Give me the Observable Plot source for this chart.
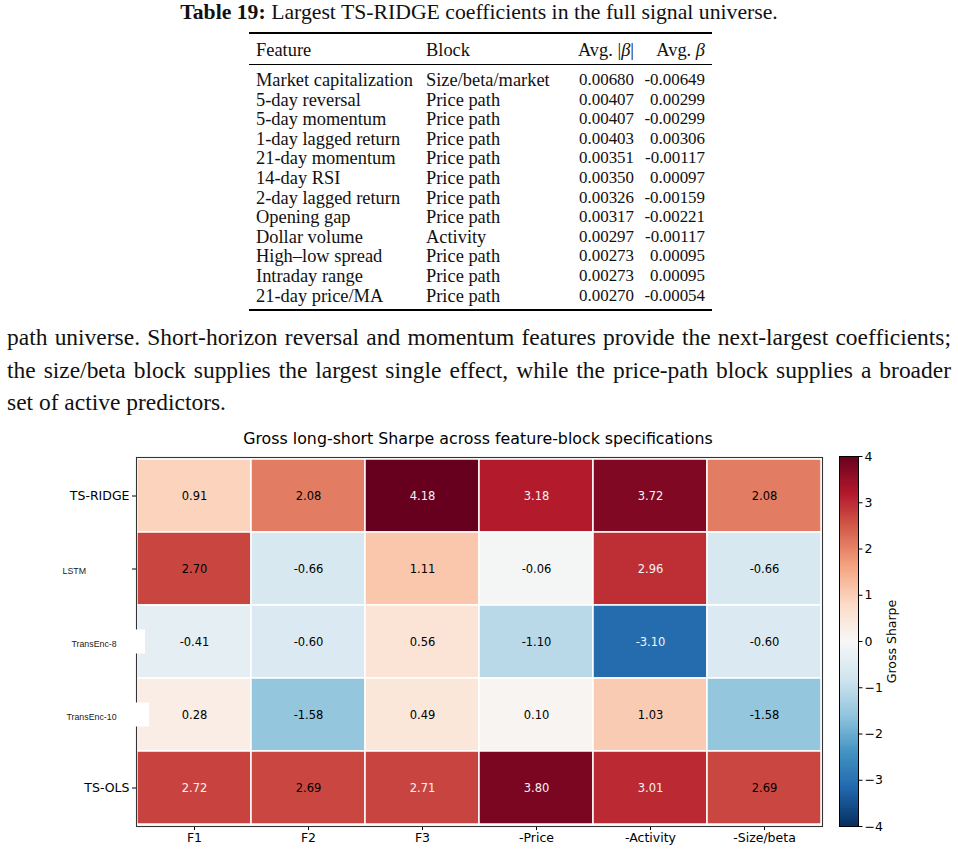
<!DOCTYPE html>
<html><head><meta charset="utf-8">
<script src="https://cdn.jsdelivr.net/npm/d3@7"></script>
<script src="https://cdn.jsdelivr.net/npm/@observablehq/plot@0.6"></script>
<style>
html,body{margin:0;padding:0;background:#fff;}
body{width:958px;height:852px;position:relative;overflow:hidden;}
.t{position:absolute;white-space:nowrap;line-height:1;transform:translateY(-50%);font-family:"Liberation Serif",serif;color:#111;}
.rule{position:absolute;background:#000;}
.para{position:absolute;line-height:1;transform:translateY(-50%);font-family:"Liberation Serif",serif;color:#111;}
</style></head><body>
<script>
// ---------- Table data ----------
const tableLabel = "Table 19:";
const tableCaption = "Largest TS-RIDGE coefficients in the full signal universe.";
const tableHeaders = ["Feature", "Block", "Avg. |<i>β</i>|", "Avg. <i>β</i>"];
const features = ["Market capitalization", "5-day reversal", "5-day momentum", "1-day lagged return", "21-day momentum", "14-day RSI", "2-day lagged return", "Opening gap", "Dollar volume", "High\u2013low spread", "Intraday range", "21-day price/MA"];
const featureBlocks = ["Size/beta/market", "Price path", "Price path", "Price path", "Price path", "Price path", "Price path", "Price path", "Activity", "Price path", "Price path", "Price path"];
const avgAbsBeta = [0.00680, 0.00407, 0.00407, 0.00403, 0.00351, 0.00350, 0.00326, 0.00317, 0.00297, 0.00273, 0.00273, 0.00270];
const avgBeta = [-0.00649, 0.00299, -0.00299, 0.00306, -0.00117, 0.00097, -0.00159, -0.00221, -0.00117, 0.00095, 0.00095, -0.00054];

// ---------- Paragraph ----------
const paragraphLines = [
  "path universe. Short-horizon reversal and momentum features provide the next-largest coefficients;",
  "the size/beta block supplies the largest single effect, while the price-path block supplies a broader",
  "set of active predictors."
];

// ---------- Heatmap data ----------
const chartTitle = "Gross long-short Sharpe across feature-block specifications";
const models = ["TS-RIDGE", "LSTM", "TransEnc-8", "TransEnc-10", "TS-OLS"];
const smallLabelModels = ["LSTM", "TransEnc-8", "TransEnc-10"];
const specs = ["F1", "F2", "F3", "-Price", "-Activity", "-Size/beta"];
const sharpeTSRidge = [0.91, 2.08, 4.18, 3.18, 3.72, 2.08];
const sharpeLSTM = [2.70, -0.66, 1.11, -0.06, 2.96, -0.66];
const sharpeTransEnc8 = [-0.41, -0.60, 0.56, -1.10, -3.10, -0.60];
const sharpeTransEnc10 = [0.28, -1.58, 0.49, 0.10, 1.03, -1.58];
const sharpeTSOLS = [2.72, 2.69, 2.71, 3.80, 3.01, 2.69];
const colorLimits = [-4, 4];
const colorbarTicks = [-4, -3, -2, -1, 0, 1, 2, 3, 4];
const colorbarLabel = "Gross Sharpe";

// ---------- Layout (styling only) ----------
const L = {
  captionCX: 479, captionY: 13, captionWidth: 598,
  ruleX0: 249, ruleX1: 712, topRuleY: 33, midRuleY: 64, bottomRuleY: 310,
  headerY: 50, firstRowY: 80, rowStep: 19.6,
  colFeatureX: 256, colBlockX: 426, colAbsRight: 634, colBetaRight: 705,
  featureRefWidth: 157, numberRefWidth: 55,
  paraX: 7, paraWidth: 944, paraY: [338, 370.5, 403], paraLastWidth: 219,
  titleCX: 478, titleY: 439, titleWidth: 470
};

function fit(el, target, base) {
  el.style.fontSize = base + "px";
  const w = el.getBoundingClientRect().width;
  return base * target / w;
}
function place(html, o) {
  const d = document.createElement("div");
  d.className = o.cls || "t";
  d.innerHTML = html;
  if (o.x != null) d.style.left = o.x + "px";
  if (o.right != null) d.style.right = (958 - o.right) + "px";
  d.style.top = o.y + "px";
  if (o.size) d.style.fontSize = o.size + "px";
  document.body.appendChild(d);
  return d;
}
function rule(y, h) {
  const r = document.createElement("div");
  r.className = "rule";
  r.style.left = L.ruleX0 + "px"; r.style.width = (L.ruleX1 - L.ruleX0) + "px";
  r.style.top = (y - h / 2) + "px"; r.style.height = h + "px";
  document.body.appendChild(r);
}

// Caption
const cap = place(`<b>${tableLabel}</b> ${tableCaption}`, {x: 0, y: L.captionY});
const capSize = fit(cap, L.captionWidth, 17);
cap.style.fontSize = capSize + "px";
cap.style.left = L.captionCX + "px";
cap.style.transform = "translate(-50%,-50%)";

// Table font sizes
const probe = place(features[0], {x: 0, y: -100});
const tSize = fit(probe, L.featureRefWidth, 16);
probe.remove();
const nprobe = place(avgAbsBeta[0].toFixed(5), {x: 0, y: -100});
const nSize = fit(nprobe, L.numberRefWidth, 16);
nprobe.remove();

rule(L.topRuleY, 1.6); rule(L.midRuleY, 1.0); rule(L.bottomRuleY, 1.6);
place(tableHeaders[0], {x: L.colFeatureX, y: L.headerY, size: tSize});
place(tableHeaders[1], {x: L.colBlockX, y: L.headerY, size: tSize});
place(tableHeaders[2], {right: L.colAbsRight, y: L.headerY, size: tSize});
place(tableHeaders[3], {right: L.colBetaRight, y: L.headerY, size: tSize});
features.forEach((f, i) => {
  const y = L.firstRowY + i * L.rowStep;
  place(f, {x: L.colFeatureX, y, size: tSize});
  place(featureBlocks[i], {x: L.colBlockX, y, size: tSize});
  place(avgAbsBeta[i].toFixed(5), {right: L.colAbsRight, y, size: nSize});
  place(avgBeta[i].toFixed(5), {right: L.colBetaRight, y, size: nSize});
});

// Paragraph
const p3 = place(paragraphLines[2], {x: L.paraX, y: L.paraY[2], cls: "para"});
p3.style.whiteSpace = "nowrap";
let pSize = fit(p3, L.paraLastWidth, 20);
const p1probe = place(paragraphLines[0], {x: 0, y: -100});
p1probe.style.fontSize = pSize + "px";
const w1 = p1probe.getBoundingClientRect().width;
if (w1 > L.paraWidth - 4) pSize = pSize * (L.paraWidth - 4) / w1;
p1probe.remove();
p3.style.fontSize = pSize + "px";
paragraphLines.slice(0, 2).forEach((line, i) => {
  const d = place(line, {x: L.paraX, y: L.paraY[i], size: pSize, cls: "para"});
  d.style.width = L.paraWidth + "px";
  d.style.textAlign = "justify";
  d.style.textAlignLast = "justify";
});

// Heatmap title
const title = place(chartTitle, {x: 0, y: L.titleY});
title.style.fontFamily = "DejaVu Sans";
title.style.color = "#000";
title.style.fontSize = fit(title, L.titleWidth, 14.5) + "px";
title.style.left = L.titleCX + "px";
title.style.transform = "translate(-50%,-50%)";

// ---------- Heatmap ----------
const sharpeRows = [sharpeTSRidge, sharpeLSTM, sharpeTransEnc8, sharpeTransEnc10, sharpeTSOLS];
const cells = models.flatMap((m, i) => specs.map((s, j) => ({model: m, spec: s, value: sharpeRows[i][j]})));
const rdbu = ["#053061", "#2166ac", "#4393c3", "#92c5de", "#d1e5f0", "#f7f7f7", "#fddbc7", "#f4a582", "#d6604d", "#b2182b", "#67001f"];
const colorScale = {
  type: "linear",
  domain: rdbu.map((_, i) => colorLimits[0] + (colorLimits[1] - colorLimits[0]) * i / (rdbu.length - 1)),
  range: rdbu, interpolate: "rgb", clamp: true
};
const whiteText = d => Math.abs(d.value) > 2.705;
const smallDx = {"LSTM": -74, "TransEnc-8": -65, "TransEnc-10": -70};

const heat = Plot.plot({
  width: 830, height: 427,
  marginLeft: 136, marginRight: 8, marginTop: 32, marginBottom: 26,
  style: {fontFamily: "DejaVu Sans", fontSize: "12.5px", background: "transparent", overflow: "visible", color: "#000"},
  x: {domain: specs, padding: 0, label: null, tickSize: 4, tickPadding: 3},
  y: {domain: models, padding: 0, label: null, tickSize: 4, tickPadding: 3,
      tickFormat: d => smallLabelModels.includes(d) ? "" : d},
  color: colorScale,
  marks: [
    Plot.cell(cells, {x: "spec", y: "model", fill: "value", stroke: "white", strokeWidth: 1.5}),
    Plot.text(cells.filter(d => !whiteText(d)), {x: "spec", y: "model", text: d => d.value.toFixed(2), fill: "#000", fontSize: 11.5}),
    Plot.text(cells.filter(whiteText), {x: "spec", y: "model", text: d => d.value.toFixed(2), fill: "#f4f4f4", fontSize: 11.5}),
    Plot.frame({stroke: "#333", strokeWidth: 1.1}),
    ...smallLabelModels.map(m => Plot.text([m], {y: d => d, text: d => d, frameAnchor: "left", textAnchor: "start",
      dx: smallDx[m], dy: 2, fontFamily: "Liberation Sans", fontSize: 8.8, fill: "#222"}))
  ]
});
const hwrap = document.createElement("div");
hwrap.style.cssText = "position:absolute;left:0;top:425px;";
hwrap.appendChild(heat);
document.body.appendChild(hwrap);

// white patches behind the TransEnc labels (as in the reference)
const yS = heat.scale("y");
const textGroups = [...heat.querySelectorAll(':scope > g[aria-label="text"]')];
const firstSmall = textGroups[textGroups.length - smallLabelModels.length];
const patchRight = {"TransEnc-8": 9, "TransEnc-10": 13};
Object.keys(patchRight).forEach(m => {
  const cy = yS.apply(m) + yS.bandwidth / 2;
  const r = document.createElementNS("http://www.w3.org/2000/svg", "rect");
  r.setAttribute("x", 136 - 30); r.setAttribute("width", 30 + patchRight[m]);
  r.setAttribute("y", cy - 12); r.setAttribute("height", 24);
  r.setAttribute("fill", "white");
  heat.insertBefore(r, firstSmall);
});

// ---------- Colorbar ----------
const step = (colorLimits[1] - colorLimits[0]) / 400;
const stops = d3.range(colorLimits[0], colorLimits[1], step);
const cbar = Plot.plot({
  width: 138, height: 427,
  marginLeft: 19, marginRight: 100, marginTop: 31, marginBottom: 26,
  style: {fontFamily: "DejaVu Sans", fontSize: "12.5px", background: "transparent", overflow: "visible", color: "#000"},
  x: {axis: null, domain: [0, 1]},
  y: {domain: colorLimits, axis: "right", ticks: colorbarTicks, tickSize: 3.5, tickPadding: 2.5, label: null},
  color: colorScale,
  marks: [
    Plot.rect(stops, {x1: 0, x2: 1, y1: d => d, y2: d => d + step * 1.5, fill: d => d + step / 2, shapeRendering: "crispEdges"}),
    Plot.frame({stroke: "#000", strokeWidth: 1}),
    Plot.text([colorbarLabel], {text: d => d, frameAnchor: "right", textAnchor: "middle", dx: 33, rotate: -90, fontSize: 12.5})
  ]
});
const cwrap = document.createElement("div");
cwrap.style.cssText = "position:absolute;left:820px;top:425px;";
cwrap.appendChild(cbar);
document.body.appendChild(cwrap);
</script>
</body></html>
